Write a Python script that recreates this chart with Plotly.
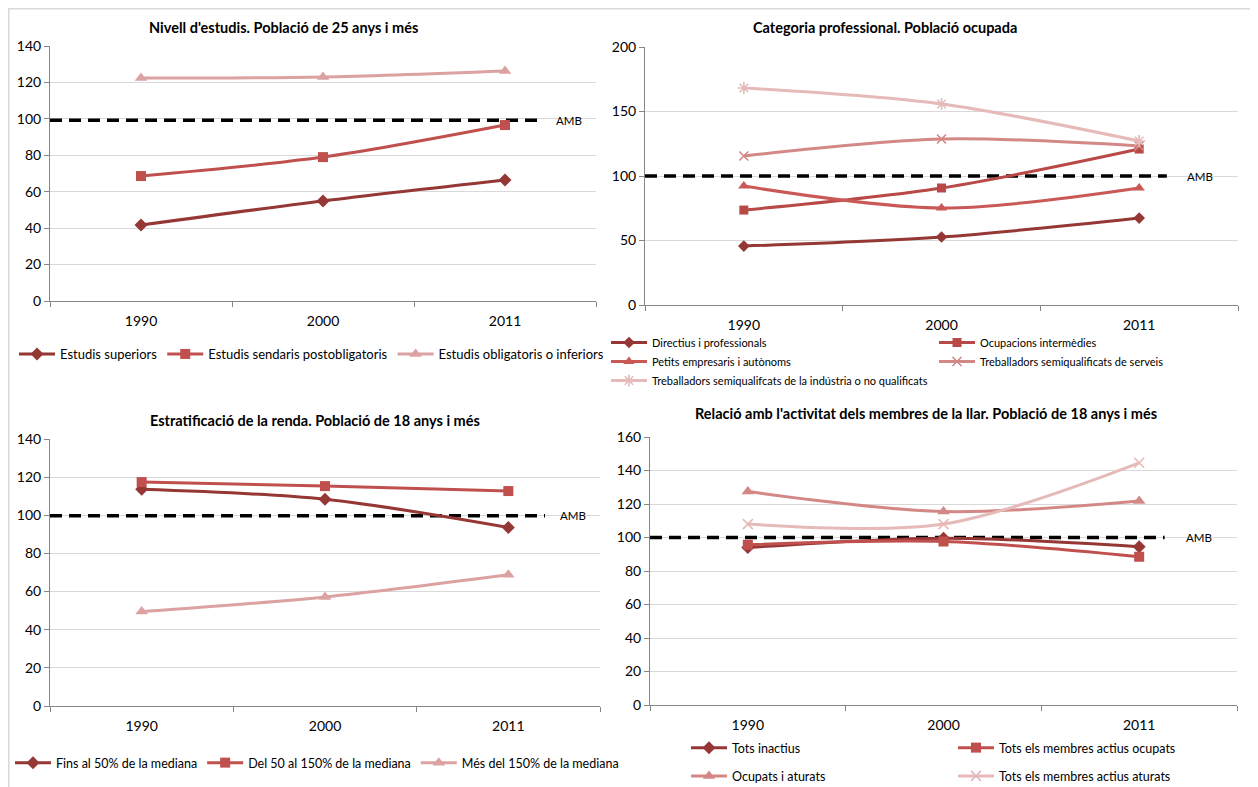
import plotly.graph_objects as go

# ---------------- data ----------------
years = ["1990", "2000", "2011"]
xpos = [0, 1, 2]

# Chart 1: Nivell d'estudis
c1_title = "Nivell d'estudis. Població de 25 anys i més"
c1_names = ["Estudis superiors", "Estudis sendaris postobligatoris", "Estudis obligatoris o inferiors"]
c1_superiors = [41.7, 54.9, 66.4]
c1_postobl = [68.6, 79.0, 96.6]
c1_obl = [122.4, 123.0, 126.3]
c1_amb = 99.2

# Chart 2: Categoria professional
c2_title = "Categoria professional. Població ocupada"
c2_names = ["Directius i professionals", "Ocupacions intermèdies", "Petits empresaris i autònoms",
            "Treballadors semiqualificats de serveis",
            "Treballadors semiqualifcats de la indústria o no qualificats"]
c2_directius = [45.7, 52.7, 67.4]
c2_intermedies = [73.6, 90.7, 120.9]
c2_petits = [92.2, 75.2, 90.7]
c2_serveis = [115.5, 128.7, 123.3]
c2_industria = [168.2, 155.8, 127.1]
c2_amb = 100

# Chart 3: Estratificació de la renda
c3_title = "Estratificació de la renda. Població de 18 anys i més"
c3_names = ["Fins al 50% de la mediana", "Del 50 al 150% de la mediana", "Més del 150% de la mediana"]
c3_fins50 = [113.6, 108.4, 93.6]
c3_50_150 = [117.4, 115.3, 112.7]
c3_mes150 = [49.5, 57.2, 68.8]
c3_amb = 99.8

# Chart 4: Relació amb l'activitat
c4_title = "Relació amb l'activitat dels membres de la llar. Població de 18 anys i més"
c4_names = ["Tots inactius", "Tots els membres actius ocupats", "Ocupats i aturats",
            "Tots els membres actius aturats"]
c4_inactius = [94.0, 99.6, 94.5]
c4_ocupats = [95.7, 97.6, 88.5]
c4_ocup_atur = [127.4, 115.5, 121.8]
c4_aturats = [108.0, 108.0, 144.6]
c4_amb = 100

amb_label = "AMB"

# ---------------- layout helpers ----------------
OFF = 8
W, H = 1250, 779
def fx(p):
    return (p - OFF) / W
def fy(p):
    return 1 - (p - OFF) / H

FONT = "Lato, 'Open Sans', sans-serif"
C_DARK = "#953735"
C_MID = "#C0504D"
C_MID2 = "#C95956"
C_LIGHT1 = "#D38886"
C_LIGHT2 = "#DBA2A1"
C_LIGHT3 = "#E5BAB9"
LW = 3

fig = go.Figure()

def add_series(name, y, ax, color, symbol, size, legend, open_sym=False):
    marker = dict(symbol=symbol, size=size, color=color)
    if open_sym:
        marker["line"] = dict(color=color, width=1.6)
    fig.add_trace(go.Scatter(
        x=xpos, y=y, name=name, mode="lines+markers", legendgroup=name,
        line=dict(color=color, width=LW, shape="spline", smoothing=0.9),
        marker=marker, xaxis="x" + ax, yaxis="y" + ax, legend=legend, hoverinfo="skip"))

def add_amb(val, ax, xend, xlab):
    fig.add_trace(go.Scatter(
        x=[-0.5, xend], y=[val, val], mode="lines", showlegend=False, hoverinfo="skip",
        line=dict(color="black", width=3.5, dash="12px,7px"),
        xaxis="x" + ax, yaxis="y" + ax))
    fig.add_annotation(x=xlab, y=val, xref="x" + ax, yref="y" + ax, text=amb_label,
                       showarrow=False, xanchor="left", yanchor="middle",
                       font=dict(size=11.5, color="#000000", family=FONT))

# chart 1
add_amb(c1_amb, "", 2.2, 2.27)
add_series(c1_names[0], c1_superiors, "", C_DARK, "diamond", 10, "legend")
add_series(c1_names[1], c1_postobl, "", C_MID, "square", 10, "legend")
add_series(c1_names[2], c1_obl, "", C_LIGHT2, "triangle-up", 11, "legend")

# chart 2
add_amb(c2_amb, "2", 2.14, 2.23)
add_series(c2_names[0], c2_directius, "2", C_DARK, "diamond", 9, "legend2")
add_series(c2_names[1], c2_intermedies, "2", "#B94946", "square", 9, "legend3")
add_series(c2_names[2], c2_petits, "2", C_MID2, "triangle-up", 10, "legend2")
add_series(c2_names[3], c2_serveis, "2", C_LIGHT1, "x-thin", 9, "legend3", open_sym=True)
add_series(c2_names[4], c2_industria, "2", C_LIGHT3, "asterisk", 10, "legend2", open_sym=True)

# chart 3
add_amb(c3_amb, "3", 2.2, 2.27)
add_series(c3_names[0], c3_fins50, "3", C_DARK, "diamond", 10, "legend4")
add_series(c3_names[1], c3_50_150, "3", C_MID, "square", 10, "legend4")
add_series(c3_names[2], c3_mes150, "3", C_LIGHT2, "triangle-up", 11, "legend4")

# chart 4
add_amb(c4_amb, "4", 2.13, 2.23)
add_series(c4_names[0], c4_inactius, "4", C_DARK, "diamond", 10, "legend5")
add_series(c4_names[1], c4_ocupats, "4", C_MID, "square", 10, "legend6")
add_series(c4_names[2], c4_ocup_atur, "4", C_LIGHT1, "triangle-up", 11, "legend5")
add_series(c4_names[3], c4_aturats, "4", C_LIGHT3, "x-thin", 10, "legend6", open_sym=True)

AXC = "#868686"
def xax(dom):
    return dict(domain=dom, range=[-0.5, 2.5], tickmode="array", tickvals=xpos, ticktext=years,
                ticks="", showline=True, linecolor=AXC, linewidth=1, showgrid=False, zeroline=False,
                tickfont=dict(size=14, color="#000000", family=FONT), ticklabelstandoff=7,
                minor=dict(tickmode="array", tickvals=[-0.5, 0.5, 1.5, 2.5], ticks="outside",
                           ticklen=5, tickcolor=AXC, showgrid=False))
def yax(dom, rng, dt):
    return dict(domain=dom, range=rng, dtick=dt, tick0=0, ticks="outside", ticklen=5, tickcolor=AXC,
                showline=True, linecolor=AXC, linewidth=1, showgrid=True, gridcolor="#D9D9D9",
                gridwidth=1, zeroline=False,
                tickfont=dict(size=14, color="#000000", family=FONT))

fig.update_layout(
    xaxis=xax([fx(50), fx(596)]), yaxis=yax([fy(301), fy(46)], [0, 140], 20),
    xaxis2=xax([fx(645), fx(1238)]), yaxis2=yax([fy(305), fy(47)], [0, 200], 50),
    xaxis3=xax([fx(50), fx(600)]), yaxis3=yax([fy(706), fy(439)], [0, 140], 20),
    xaxis4=xax([fx(650), fx(1237)]), yaxis4=yax([fy(705), fy(437)], [0, 160], 20),
)
for k in ["xaxis2", "xaxis3", "xaxis4"]:
    fig.layout[k].anchor = "y" + k[-1]
for k in ["yaxis2", "yaxis3", "yaxis4"]:
    fig.layout[k].anchor = "x" + k[-1]

def leg(x, y, size, orient, gap=0):
    return dict(x=max(fx(x), 0), y=fy(y), xanchor="left", yanchor="top", orientation=orient,
                font=dict(size=size, color="#000000", family=FONT), bgcolor="rgba(0,0,0,0)",
                itemwidth=36, tracegroupgap=gap, traceorder="grouped" if gap else "normal",
                itemclick=False)

fig.update_layout(
    legend=leg(14, 339, 13, "h"),
    legend2=leg(606, 328, 11, "v"),
    legend3=leg(934, 328, 11, "v"),
    legend4=leg(10, 748, 12.5, "h"),
    legend5=leg(686, 733, 12.5, "v", 9),
    legend6=leg(953, 733, 12.5, "v", 9),
)

titles = [(c1_title, 283, 27), (c2_title, 885, 27), (c3_title, 315, 420), (c4_title, 926, 413)]
for t, x, y in titles:
    fig.add_annotation(x=fx(x), y=fy(y), xref="paper", yref="paper", text="<b>" + t + "</b>",
                       showarrow=False, xanchor="center", yanchor="middle",
                       font=dict(size=14.5, color="#000000", family=FONT))

fig.add_shape(type="line", xref="paper", yref="paper", x0=0, x1=0, y0=0, y1=1,
              line=dict(color="#D9D9D9", width=3))
fig.add_shape(type="line", xref="paper", yref="paper", x0=0, x1=1, y0=1, y1=1,
              line=dict(color="#D9D9D9", width=3))

fig.update_layout(width=W, height=H, margin=dict(l=0, r=0, t=0, b=0, autoexpand=False),
                  paper_bgcolor="white", plot_bgcolor="white", showlegend=True,
                  font=dict(family=FONT, color="#000000"))

fig.write_html("out.html")
